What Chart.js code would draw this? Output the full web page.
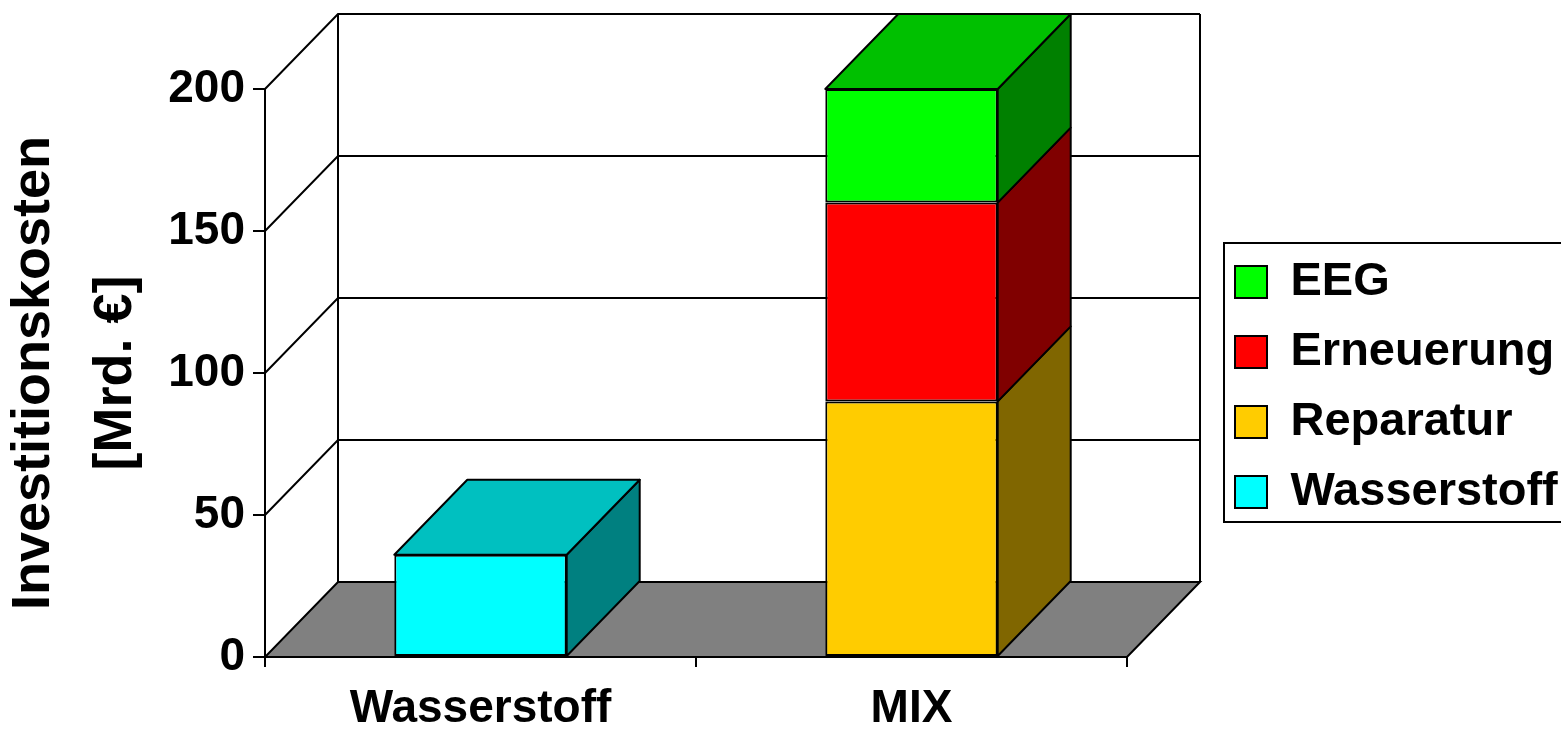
<!DOCTYPE html>
<html>
<head>
<meta charset="utf-8">
<title>Investitionskosten</title>
<script src="https://cdn.jsdelivr.net/npm/chart.js@4.4.1/dist/chart.umd.min.js"></script>
<style>
  body { margin: 0; background: #fff; }
  #wrap { width: 1561px; height: 729px; position: relative; }
</style>
</head>
<body>
<div id="wrap"><canvas id="costChart"></canvas></div>
<script>
// Data
const categories = ['Wasserstoff', 'MIX'];
const wasserstoff = [36, null];
const reparatur = [null, 90];
const erneuerung = [null, 70];
const eeg = [null, 40];
const yMax = 200;
const yStep = 50;

// Colours: front, side, top
const frontColors = ['#00FFFF', '#FFCC00', '#FF0000', '#00FF00'];
const sideColors = ['#008080', '#806600', '#800000', '#008000'];
const topColors = ['#00C0C0', '#C09900', '#C00000', '#00C000'];

const FONT = '"Liberation Sans", Arial, sans-serif';
const DX = 73, DY = 75;

// 3D walls, floor and bar depth
const depthPlugin = {
    id: 'depth3d',
    beforeDraw(chart) {
        const lg = chart.legend;
        lg.left = 1212; lg.top = 235.5; lg.right = 1561; lg.bottom = 729;
        lg.width = lg.right - lg.left; lg.height = lg.bottom - lg.top;
    },
    beforeDatasetsDraw(chart) {
        const { ctx, chartArea: a, scales: { y } } = chart;
        ctx.save();
        ctx.strokeStyle = '#000';
        ctx.lineWidth = 2;
        // floor
        ctx.beginPath();
        ctx.moveTo(a.left, a.bottom);
        ctx.lineTo(a.right, a.bottom);
        ctx.lineTo(a.right + DX, a.bottom - DY);
        ctx.lineTo(a.left + DX, a.bottom - DY);
        ctx.closePath();
        ctx.fillStyle = '#808080';
        ctx.fill();
        ctx.stroke();
        // back wall grid + side wall diagonals
        y.ticks.forEach(t => {
            if (t.value === 0) return;
            const py = y.getPixelForValue(t.value);
            ctx.beginPath();
            ctx.moveTo(a.left, py);
            ctx.lineTo(a.left + DX, py - DY);
            ctx.lineTo(a.right + DX, py - DY);
            ctx.stroke();
        });
        // wall edges
        ctx.beginPath();
        ctx.moveTo(a.left + DX, a.top - DY);
        ctx.lineTo(a.left + DX, a.bottom - DY);
        ctx.moveTo(a.right + DX, a.top - DY);
        ctx.lineTo(a.right + DX, a.bottom - DY);
        ctx.stroke();
        ctx.restore();
    },
    afterDatasetsDraw(chart) {
        const { ctx } = chart;
        ctx.save();
        ctx.strokeStyle = '#000';
        ctx.lineWidth = 2;
        ctx.lineJoin = 'round';
        const tops = {};
        chart.data.datasets.forEach((ds, di) => {
            const meta = chart.getDatasetMeta(di);
            meta.data.forEach((el, i) => {
                if (ds.data[i] == null) return;
                const p = el.getProps(['x', 'y', 'base', 'width'], true);
                const left = p.x - p.width / 2, right = p.x + p.width / 2;
                // side face
                ctx.beginPath();
                ctx.moveTo(right, p.y);
                ctx.lineTo(right + DX, p.y - DY);
                ctx.lineTo(right + DX, p.base - DY);
                ctx.lineTo(right, p.base);
                ctx.closePath();
                ctx.fillStyle = sideColors[di];
                ctx.fill();
                ctx.stroke();
                if (!tops[i] || p.y < tops[i].y) tops[i] = { y: p.y, left, right, di };
            });
        });
        // top faces
        Object.values(tops).forEach(t => {
            ctx.beginPath();
            ctx.moveTo(t.left, t.y);
            ctx.lineTo(t.left + DX, t.y - DY);
            ctx.lineTo(t.right + DX, t.y - DY);
            ctx.lineTo(t.right, t.y);
            ctx.closePath();
            ctx.fillStyle = topColors[t.di];
            ctx.fill();
            ctx.stroke();
        });
        ctx.restore();
    },
    afterDraw(chart) {
        // legend frame
        const { ctx } = chart;
        ctx.save();
        ctx.strokeStyle = '#000';
        ctx.lineWidth = 2;
        ctx.strokeRect(1224, 243, 400, 279);
        ctx.restore();
    }
};

const makeSet = (label, data, i) => ({
    label: label,
    data: data,
    backgroundColor: frontColors[i],
    borderColor: '#000',
    borderWidth: 2,
    borderSkipped: false
});

const ctx = document.getElementById('costChart').getContext('2d');
new Chart(ctx, {
    type: 'bar',
    data: {
        labels: categories,
        datasets: [
            makeSet('Wasserstoff', wasserstoff, 0),
            makeSet('Reparatur', reparatur, 1),
            makeSet('Erneuerung', erneuerung, 2),
            makeSet('EEG', eeg, 3)
        ]
    },
    options: {
        responsive: true,
        maintainAspectRatio: false,
        animation: false,
        layout: { padding: { left: 0, top: 89, right: 434, bottom: 0 } },
        datasets: { bar: { barPercentage: 0.4, categoryPercentage: 1 } },
        plugins: {
            tooltip: { enabled: false },
            legend: {
                position: 'chartArea',
                align: 'start',
                reverse: true,
                labels: {
                    boxWidth: 32,
                    boxHeight: 32,
                    padding: 23,
                    color: '#000',
                    font: { family: FONT, size: 47, weight: 'bold' }
                }
            }
        },
        scales: {
            x: {
                stacked: true,
                afterFit: s => { s.height = 72; },
                grid: { drawOnChartArea: false, color: '#000', lineWidth: 2, tickLength: 10 },
                border: { color: '#000', width: 2 },
                ticks: { color: '#000', padding: 15, font: { family: FONT, size: 46, weight: 'bold' } }
            },
            y: {
                stacked: true,
                min: 0,
                max: yMax,
                afterFit: s => { s.width = 265; },
                grid: { drawOnChartArea: false, color: '#000', lineWidth: 2, tickLength: 12 },
                border: { color: '#000', width: 2 },
                ticks: { stepSize: yStep, color: '#000', padding: 8, font: { family: FONT, size: 46, weight: 'bold' } },
                title: {
                    display: true,
                    text: ['Investitionskosten', '[Mrd. €]'],
                    color: '#000',
                    padding: { top: -7, bottom: 0 },
                    font: { family: FONT, size: 54, weight: 'bold', lineHeight: '82px' }
                }
            }
        }
    },
    plugins: [depthPlugin]
});
</script>
</body>
</html>
